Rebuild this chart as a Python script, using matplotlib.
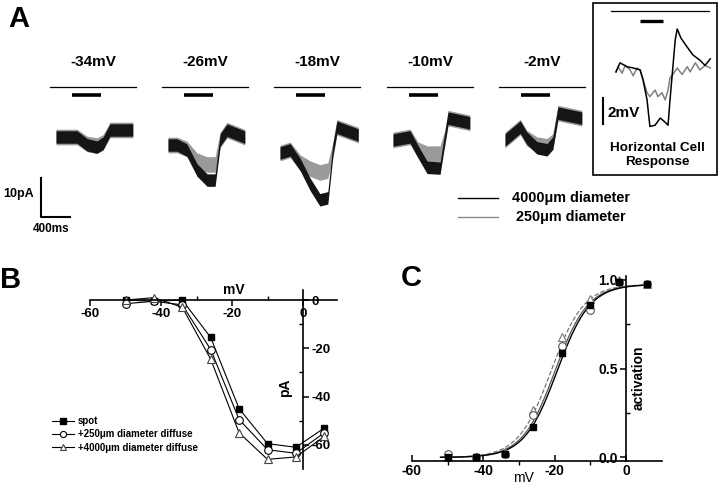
import numpy as np
import matplotlib
matplotlib.use('Agg')
import matplotlib.pyplot as plt
from matplotlib.patches import Rectangle

plt.rcParams['font.family'] = ['Liberation Sans', 'DejaVu Sans']
plt.rcParams['font.weight'] = 'bold'

# ---------------- panel A: bipolar cell currents (ms, pA from holding) ----
step_labels = ['-34mV', '-26mV', '-18mV', '-10mV', '-2mV']
trace_t = [
    [0, 290, 430, 565, 650, 745, 1060],
    [0, 125, 260, 400, 540, 650, 720, 815, 1060],
    [0, 140, 280, 415, 550, 660, 730, 785, 1080],
    [0, 235, 345, 470, 650, 715, 760, 1060],
    [0, 210, 300, 440, 580, 660, 730, 1060],
]
trace_4000 = [
    [0, 0, -2.0, -2.6, -1.6, 1.8, 1.8],
    [0, 0, -1.3, -6.4, -9.0, -9.0, 1.3, 3.8, 2.0],
    [0, 0.8, -3.0, -8.0, -12.0, -11.5, 0.8, 6.6, 4.6],
    [0, 0.8, -3.0, -7.0, -7.2, 0.5, 5.6, 4.4],
    [0, 3.3, 0.5, -2.0, -2.5, -0.8, 6.9, 5.6],
]
trace_250 = [
    [0, 0, -1.8, -2.2, -1.4, 1.8, 1.8],
    [0, 0, -1.0, -4.0, -5.0, -5.0, 1.3, 3.8, 2.0],
    [0, 0.8, -2.5, -4.0, -5.0, -4.5, 0.8, 6.6, 4.6],
    [0, 0.8, -2.5, -3.5, -3.5, 0.5, 5.6, 4.4],
    [0, 3.3, 0.5, -1.2, -1.6, -0.4, 6.9, 5.6],
]
noise_pa = 1.6
stim_line = [-80, 1104]
stim_bar = [220, 620]

# horizontal cell response (ms, mV)
hc_t_big = [0, 70, 190, 300, 420, 470, 540, 590, 680, 770, 850, 905, 940,
            990, 1030, 1065, 1130, 1240, 1340, 1460, 1550, 1640]
hc_big = [-0.3, 0.4, 0.1, 0, -0.15, -0.9, -2.45, -4.5, -4.4, -3.85, -4.15,
          -4.4, -2.45, 0.1, 2.15, 3.0, 2.3, 1.6, 1.0, 0.6, 0.2, 0.7]
hc_t_small = [0, 35, 105, 160, 245, 300, 365, 420, 470, 540, 590, 680, 730,
              800, 855, 905, 940, 990, 1065, 1150, 1240, 1290, 1380, 1460,
              1550, 1640]
hc_small = [-0.3, 0.1, -0.4, 0.2, -0.15, -0.6, 0, -0.15, -0.9, -1.9, -2.2,
            -1.7, -2.2, -1.9, -2.45, -1.7, -0.75, -0.5, 0, -0.5, 0.1, -0.3,
            0.4, -0.15, 0.2, 0]

# ---------------- panel B / C ----------------
volts = [-50, -42, -34, -26, -18, -10, -2, 6]
i_spot = [0, -0.5, 0, -15.5, -45, -59.5, -61, -53]
i_250 = [-1.5, -0.5, -2, -20.5, -49.5, -62, -63.5, -55]
i_4000 = [0, 1, -3, -24.5, -55, -66, -65, -56.5]
series_names = ['spot', '+250\u03bcm diameter diffuse', '+4000\u03bcm diameter diffuse']

act_spot = [0.0, 0.0, 0.02, 0.17, 0.59, 0.86, 0.99, 0.98]
act_250 = [0.02, 0.005, 0.02, 0.24, 0.63, 0.83, 0.99, 0.98]
act_4000 = [0.0, 0.005, 0.03, 0.27, 0.68, 0.89, 1.0, 0.98]
# Boltzmann fit parameters: (V1/2, slope, max)
fit_spot = (-19.3, 4.6, 0.975)
fit_250 = (-19.9, 4.6, 0.975)
fit_4000 = (-21.0, 4.6, 0.975)

W, H = 720, 490
fig = plt.figure(figsize=(7.2, 4.9), dpi=100)


def px_axes(x0, y0, x1, y1):
    return fig.add_axes([x0 / W, 1 - y1 / H, (x1 - x0) / W, (y1 - y0) / H])


ov = fig.add_axes([0, 0, 1, 1])
ov.set_xlim(0, W)
ov.set_ylim(H, 0)
ov.axis('off')

fig.text(8 / W, 1 - 19 / H, 'A', fontsize=21, va='center', ha='left')
fig.text(0 / W, 1 - 280 / H, 'B', fontsize=21, va='center', ha='left')
fig.text(401 / W, 1 - 278 / H, 'C', fontsize=21, va='center', ha='left')

# ---- A traces ----
MS_PX = 13.8   # ms per pixel
PA_PX = 3.9    # pixels per pA
trace_x0 = [56, 168, 280, 393, 505]
trace_y0 = [137, 145, 153, 140, 140]
top, bot = 50, 215
for k in range(5):
    x0, y0 = trace_x0[k], trace_y0[k]
    ax = px_axes(x0 - 10, top, x0 + 85, bot)
    ax.set_xlim(-10 * MS_PX, 85 * MS_PX)
    ax.set_ylim(-(bot - y0) / PA_PX, (y0 - top) / PA_PX)
    ax.axis('off')
    t = np.array(trace_t[k])
    a = np.array(trace_250[k])
    b = np.array(trace_4000[k])
    ax.fill_between(t, a - noise_pa - 0.4, a + noise_pa + 0.4, color='#9a9a9a', lw=0)
    ax.fill_between(t, b - noise_pa, b + noise_pa, color='#151515', lw=0)
    ax.plot(stim_line, [(y0 - 87) / PA_PX] * 2, color='black', lw=0.9)
    ax.plot(stim_bar, [(y0 - 95.5) / PA_PX] * 2, color='black', lw=2.6,
            solid_capstyle='butt')
    ax.text(sum(stim_line) / 2, (y0 - 62) / PA_PX, step_labels[k],
            fontsize=11, ha='center', va='center')

# scale bar 400 ms / 10 pA
sb = px_axes(41, 178, 41 + 400 / MS_PX, 178 + 10 * PA_PX)
sb.set_xlim(0, 400)
sb.set_ylim(0, 10)
sb.axis('off')
sb.plot([0, 0, 400], [10, 0, 0], color='black', lw=1.5, clip_on=False)
ov.text(34, 194, '10pA', fontsize=9, ha='right', va='center')
ov.text(33, 229, '400ms', fontsize=8.5, ha='left', va='center')

# legend for A
ov.plot([458, 498], [198, 198], color='black', lw=1)
ov.plot([458, 498], [217, 217], color='#8a8a8a', lw=1)
ov.text(571, 198, '4000\u03bcm diameter', fontsize=10.4, ha='center', va='center')
ov.text(571, 217, '250\u03bcm diameter', fontsize=10.4, ha='center', va='center')

# inset: horizontal cell response
ov.add_patch(Rectangle((593, 3), 124, 172, fill=False, ec='black', lw=1.2))
HC_MS = 17.4   # ms per pixel
MV_PX = 13.0   # pixels per mV
hc = px_axes(596, 5, 716, 140)
hc.set_xlim(-20 * HC_MS, 100 * HC_MS)
hc.set_ylim(-(140 - 68) / MV_PX, (68 - 5) / MV_PX)
hc.axis('off')
hc.plot(hc_t_small, hc_small, color='#808080', lw=1.1)
hc.plot(hc_t_big, hc_big, color='black', lw=1.1)
hc.plot([-87, 1618], [(68 - 11) / MV_PX] * 2, color='black', lw=0.9)
hc.plot([418, 818], [(68 - 21) / MV_PX] * 2, color='black', lw=2.4,
        solid_capstyle='butt')
hc.plot([-226, -226], [-(98 - 68) / MV_PX, -(124 - 68) / MV_PX],
        color='black', lw=1.5, clip_on=False)
ov.text(608, 113, '2mV', fontsize=11, ha='left', va='center')
ov.text(657, 155, 'Horizontal Cell\nResponse', fontsize=9.7, ha='center',
        va='center', linespacing=1.25)

# ---- B: I-V ----
axb = px_axes(82.9, 288, 338.5, 469)
axb.set_facecolor('none')
axb.set_xlim(-62, 10)
axb.set_ylim(-70, 5)
axb.plot(volts, i_spot, '-s', color='black', lw=0.8, ms=5, mfc='black', mec='black',
         label=series_names[0])
axb.plot(volts, i_250, '-o', color='black', lw=0.8, ms=5.5, mfc='white', mec='black',
         mew=0.8, label=series_names[1])
axb.plot(volts, i_4000, '-^', color='black', lw=0.8, ms=6, mfc='white', mec='#444444',
         mew=0.8, label=series_names[2])
axb.spines['top'].set_visible(False)
axb.spines['left'].set_visible(False)
axb.spines['bottom'].set_position(('data', 0))
axb.spines['right'].set_position(('data', 0))
axb.spines['bottom'].set_bounds(-60, 9.5)
axb.spines['right'].set_bounds(-70, 4)
for s in ('bottom', 'right'):
    axb.spines[s].set_linewidth(1.2)
axb.yaxis.tick_right()
axb.set_xticks([-60, -40, -20, 0])
axb.set_xticks([-50, -30, -10], minor=True)
axb.set_yticks([0, -20, -40, -60])
axb.set_yticks([-10, -30, -50], minor=True)
axb.set_xticklabels(['-60', '-40', '-20', '0'])
axb.set_yticklabels(['0', '-20', '-40', '-60'])
axb.tick_params(which='major', direction='out', length=4, width=1.1, labelsize=9.5, pad=2)
axb.tick_params(which='minor', direction='in', length=3, width=1)
axb.text(-19.4, 4.1, 'mV', fontsize=10, ha='center', va='center')
axb.text(-5.1, -36.4, 'pA', fontsize=10, ha='center', va='center', rotation=90)
axb.legend(loc='upper left', bbox_to_anchor=(52 / W, 1 - 416 / H),
           bbox_transform=fig.transFigure, frameon=False, fontsize=7,
           handlelength=2.3, handletextpad=0.35, labelspacing=0.35,
           borderpad=0, borderaxespad=0, markerscale=0.8)

# ---- C: activation ----
axc = px_axes(412, 276.4, 661.7, 461)
axc.set_facecolor('none')
axc.set_xlim(-60, 10)
axc.set_ylim(-0.02, 1.02)
vfit = np.linspace(-52, 6, 200)
for (vh, k, amax), col, ls, lw in [(fit_4000, '#777777', '--', 0.9),
                                   (fit_250, '#555555', '-', 0.9),
                                   (fit_spot, 'black', '-', 1.0)]:
    axc.plot(vfit, amax / (1 + np.exp((vh - vfit) / k)), color=col, ls=ls, lw=lw)
axc.plot(volts, act_4000, '^', ms=6, mfc='white', mec='#777777', mew=0.8)
axc.plot(volts, act_250, 'o', ms=5.5, mfc='white', mec='#555555', mew=0.8)
axc.plot(volts, act_spot, 's', ms=4.5, mfc='black', mec='black')
axc.spines['top'].set_visible(False)
axc.spines['right'].set_visible(False)
axc.spines['left'].set_position(('data', 0))
for s in ('bottom', 'left'):
    axc.spines[s].set_linewidth(1.2)
axc.set_xticks([-60, -40, -20, 0])
axc.set_xticks([-50, -30, -10], minor=True)
axc.set_xticklabels(['-60', '-40', '-20', '0'])
axc.set_yticks([0, 0.5, 1.0])
axc.set_yticks([0.25, 0.75], minor=True)
axc.set_yticklabels(['0.0', '0.5', '1.0'])
axc.tick_params(axis='x', which='major', direction='in', length=4, width=1.1,
                labelsize=10, pad=2)
axc.tick_params(axis='x', which='minor', direction='out', length=3, width=1)
axc.tick_params(axis='y', which='major', direction='out', length=4, width=1.1,
                labelsize=10, pad=2)
axc.tick_params(axis='y', which='minor', direction='in', length=3, width=1)
axc.text(3.6, 0.45, 'activation', fontsize=10, ha='center', va='center', rotation=90)
axc.set_xlabel('mV', fontsize=10, labelpad=0)
axc.xaxis.set_label_coords((523 - 412) / 249.7, -0.09)
axc.xaxis.label.set_va('center')

fig.savefig('out.png', dpi=100)
